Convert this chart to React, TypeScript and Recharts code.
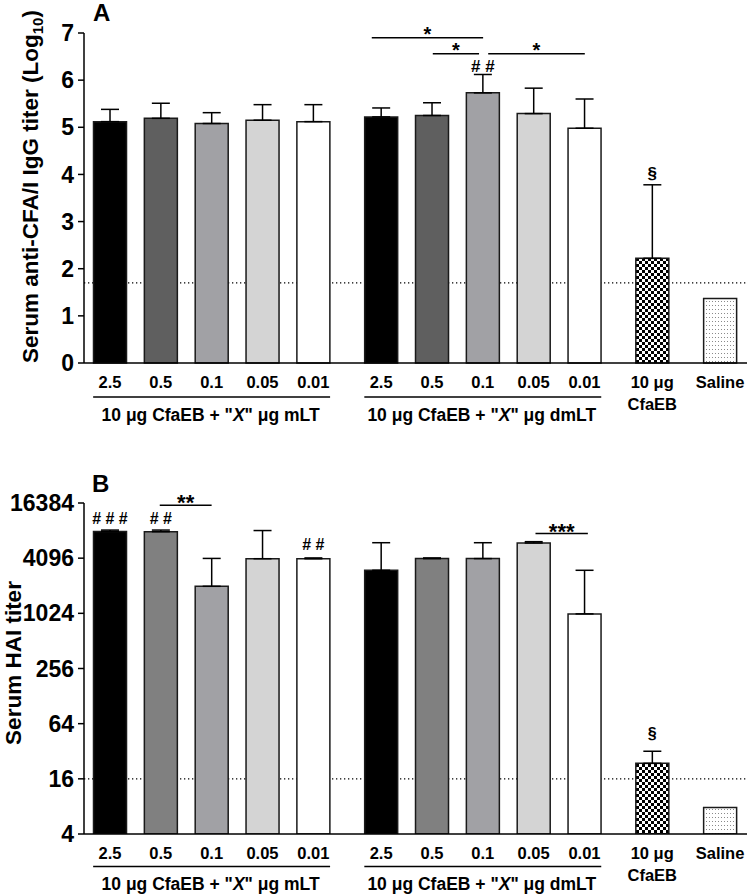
import React from "react";
import {
  ComposedChart,
  Bar,
  XAxis,
  YAxis,
  ErrorBar,
  Cell,
  ReferenceLine,
  ReferenceDot,
  CartesianGrid,
} from "recharts";

const FONT = "Arial, 'Liberation Sans', Helvetica, sans-serif";

// ---------- categories ----------
const groupOf = [0, 0, 0, 0, 0, 1, 1, 1, 1, 1, 2, 3];
const tickLabels = [
  "2.5", "0.5", "0.1", "0.05", "0.01",
  "2.5", "0.5", "0.1", "0.05", "0.01",
  "10 μg\nCfaEB", "Saline",
];
const groupNames = [
  { adjuvant: "mLT", first: 0, last: 4 },
  { adjuvant: "dmLT", first: 5, last: 9 },
];

// ---------- panel A: anti-CFA/I IgG (log10) ----------
const igGMean = [5.12, 5.19, 5.08, 5.15, 5.12, 5.22, 5.25, 5.73, 5.29, 4.98, 2.22, 1.37];
const igGErr = [0.26, 0.32, 0.23, 0.33, 0.36, 0.19, 0.27, 0.39, 0.54, 0.62, 1.56, null];
const igGLimit = 1.7;
const igGTicks = [0, 1, 2, 3, 4, 5, 6, 7];
const igGSig = [
  { from: 5.15, to: 7.34, y: 6.9, text: "*" },
  { from: 6.35, to: 7.26, y: 6.56, text: "*" },
  { from: 7.44, to: 9.34, y: 6.56, text: "*" },
];
const igGMarks = [
  { bar: 7, y: 6.3, text: "##" },
  { bar: 10, y: 4.02, text: "§" },
];

// ---------- panel B: HAI titer ----------
const haiMean = [8030, 7970, 2020, 4040, 4040, 3020, 4050, 4050, 6000, 1010, 23.6, 7.8];
const haiUpper = [8300, 8300, 4070, 8200, 4120, 6040, 4120, 6040, 6200, 3020, 32, null];
const haiLimit = 16;
const haiTicks = [4, 16, 64, 256, 1024, 4096, 16384];
const haiSig = [
  { from: 0.98, to: 2.0, y: 15440, text: "**" },
  { from: 8.37, to: 9.4, y: 7590, text: "***" },
];
const haiMarks = [
  { bar: 0, y: 11040, text: "###" },
  { bar: 1, y: 11040, text: "##" },
  { bar: 4, y: 5760, text: "##" },
  { bar: 10, y: 50.4, text: "§" },
];

// ---------- layout helpers ----------
const GROUP_GAP = 1 / 3;
const xOf = (i: number) => i + GROUP_GAP * groupOf[i];
const xs = groupOf.map((_, i) => xOf(i));
const X_DOMAIN: [number, number] = [-0.51, 12.53];
const HALF_BAR = 0.33;

const fillsA = ["#000000", "#5f5f5f", "#a1a1a5", "#d4d4d4", "#ffffff", "#000000", "#5f5f5f", "#a1a1a5", "#d4d4d4", "#ffffff", "url(#checkA)", "url(#dotsA)"];
const fillsB = ["#000000", "#808080", "#a1a1a5", "#d4d4d4", "#ffffff", "#000000", "#808080", "#a1a1a5", "#d4d4d4", "#ffffff", "url(#checkB)", "url(#dotsB)"];

const spread = (t: string) => t.split("").join(" ");

const PatternDefs = ({ suffix }: { suffix: string }) => (
  <defs>
    <pattern id={"check" + suffix} patternUnits="userSpaceOnUse" width={6} height={6}>
      <rect x={0} y={0} width={6} height={6} fill="#fff" />
      <rect x={0} y={0} width={3} height={3} fill="#000" />
      <rect x={3} y={3} width={3} height={3} fill="#000" />
    </pattern>
    <pattern id={"dots" + suffix} patternUnits="userSpaceOnUse" width={3} height={4}>
      <rect x={0} y={0} width={3} height={4} fill="#fff" />
      <rect x={1} y={1} width={1} height={1} fill="#8a8a8a" />
    </pattern>
  </defs>
);

const makeXTick = (groupDy: number) => (props: any) => {
  const { x, y, payload } = props;
  const i = xs.findIndex((v) => Math.abs(v - payload.value) < 1e-6);
  if (i < 0) return <g />;
  const lines = tickLabels[i].split("\n");
  const g = groupNames.find((gr) => (gr.first + gr.last) / 2 === i);
  return (
    <g>
      <text x={x} y={y} textAnchor="middle" fontFamily={FONT} fontWeight="bold" fontSize={16.5} fill="#000">
        {lines.map((l, k) => (
          <tspan key={k} x={x} dy={k === 0 ? 24.5 : 22.5}>
            {l}
          </tspan>
        ))}
      </text>
      {g && (
        <text x={x - 1} y={y + groupDy} textAnchor="middle" fontFamily={FONT} fontWeight="bold" fontSize={17.5} fill="#000">
          {'10 μg CfaEB + "'}
          <tspan fontStyle="italic">X</tspan>
          {'" μg ' + g.adjuvant}
        </text>
      )}
    </g>
  );
};

const textShape = (text: string, size: number, dy: number) => (p: any) => (
  <text x={p.cx} y={p.cy + dy} textAnchor="middle" fontFamily={FONT} fontWeight="bold" fontSize={size} fill="#000">
    {text}
  </text>
);

const markShape = (text: string, size: number) => (p: any) => (
  <text x={p.cx} y={p.cy} textAnchor="middle" dominantBaseline="central" fontFamily={FONT} fontWeight="bold" fontSize={size} fill="#000">
    {text === "§" ? text : spread(text)}
  </text>
);

const dataA = xs.map((x, i) => ({
  x,
  v: igGMean[i],
  err: igGErr[i] == null ? null : [0, igGErr[i] as number],
}));
const dataB = xs.map((x, i) => ({
  x,
  v: haiMean[i],
  err: haiUpper[i] == null ? null : [0, (haiUpper[i] as number) - haiMean[i]],
}));

const W = 747;
const axisStroke = { stroke: "#000", strokeWidth: 1.5 };
const yTickStyle = { fontFamily: FONT, fontWeight: "bold" as const, fontSize: 23, fill: "#000" };

function PanelA() {
  return (
    <ComposedChart width={W} height={430} data={dataA} margin={{ top: 33, right: 0, bottom: 0, left: 0 }}>
      <PatternDefs suffix="A" />
      <CartesianGrid vertical={false} horizontalValues={[igGLimit]} stroke="#000" strokeWidth={1.2} strokeDasharray="1.3 2.7" />
      <XAxis
        dataKey="x"
        type="number"
        domain={X_DOMAIN}
        ticks={xs}
        interval={0}
        allowDataOverflow
        height={67}
        tickLine={false}
        tickSize={0}
        tickMargin={0}
        axisLine={axisStroke}
        tick={makeXTick(57.5)}
      />
      <YAxis
        type="number"
        domain={[0, 7]}
        ticks={igGTicks}
        interval={0}
        width={84}
        tickSize={6}
        tickMargin={4}
        axisLine={axisStroke}
        tickLine={axisStroke}
        tick={yTickStyle}
      />
      <Bar dataKey="v" barSize={33} stroke="#1a1a1a" strokeWidth={1.5} isAnimationActive={false}>
        {dataA.map((_, i) => (
          <Cell key={i} fill={fillsA[i]} />
        ))}
        <ErrorBar dataKey="err" direction="y" width={9} stroke="#000" strokeWidth={1.5} />
      </Bar>
      {groupNames.map((g, k) => (
        <ReferenceLine
          key={"g" + k}
          ifOverflow="visible"
          segment={[
            { x: xOf(g.first) - HALF_BAR, y: -0.72 },
            { x: xOf(g.last) + HALF_BAR, y: -0.72 },
          ]}
          stroke="#000"
          strokeWidth={1.5}
        />
      ))}
      {igGSig.map((s, k) => (
        <ReferenceLine
          key={"s" + k}
          ifOverflow="visible"
          segment={[
            { x: s.from, y: s.y },
            { x: s.to, y: s.y },
          ]}
          stroke="#000"
          strokeWidth={1.5}
        />
      ))}
      {igGSig.map((s, k) => (
        <ReferenceDot key={"st" + k} x={(s.from + s.to) / 2} y={s.y} r={0} ifOverflow="visible" shape={textShape(s.text, 20, 3)} />
      ))}
      {igGMarks.map((m, k) => (
        <ReferenceDot key={"m" + k} x={xs[m.bar]} y={m.y} r={0} ifOverflow="visible" shape={markShape(m.text, 17)} />
      ))}
      <text x={93} y={21} fontFamily={FONT} fontWeight="bold" fontSize={24} fill="#000">
        A
      </text>
      <text transform="translate(38,186.5) rotate(-90)" textAnchor="middle" fontFamily={FONT} fontWeight="bold" fontSize={22.5} fill="#000">
        Serum anti-CFA/I IgG titer (Log
        <tspan fontSize={15} dy={5}>10</tspan>
        <tspan dy={-5}>)</tspan>
      </text>
    </ComposedChart>
  );
}

function PanelB() {
  return (
    <ComposedChart width={W} height={456} data={dataB} margin={{ top: 63, right: 0, bottom: 0, left: 0 }}>
      <PatternDefs suffix="B" />
      <CartesianGrid vertical={false} horizontalValues={[haiLimit]} stroke="#000" strokeWidth={1.2} strokeDasharray="1.3 2.7" />
      <XAxis
        dataKey="x"
        type="number"
        domain={X_DOMAIN}
        ticks={xs}
        interval={0}
        allowDataOverflow
        height={62}
        tickLine={false}
        tickSize={0}
        tickMargin={0}
        axisLine={axisStroke}
        tick={makeXTick(56)}
      />
      <YAxis
        type="number"
        scale="log"
        base={2}
        domain={[4, 16384]}
        ticks={haiTicks}
        interval={0}
        allowDataOverflow
        width={84}
        tickSize={6}
        tickMargin={4}
        axisLine={axisStroke}
        tickLine={axisStroke}
        tick={yTickStyle}
      />
      <Bar dataKey="v" barSize={33} stroke="#1a1a1a" strokeWidth={1.5} isAnimationActive={false}>
        {dataB.map((_, i) => (
          <Cell key={i} fill={fillsB[i]} />
        ))}
        <ErrorBar dataKey="err" direction="y" width={9} stroke="#000" strokeWidth={1.5} />
      </Bar>
      {groupNames.map((g, k) => (
        <ReferenceLine
          key={"g" + k}
          ifOverflow="visible"
          segment={[
            { x: xOf(g.first) - HALF_BAR, y: 1.77 },
            { x: xOf(g.last) + HALF_BAR, y: 1.77 },
          ]}
          stroke="#000"
          strokeWidth={1.5}
        />
      ))}
      {haiSig.map((s, k) => (
        <ReferenceLine
          key={"s" + k}
          ifOverflow="visible"
          segment={[
            { x: s.from, y: s.y },
            { x: s.to, y: s.y },
          ]}
          stroke="#000"
          strokeWidth={1.5}
        />
      ))}
      {haiSig.map((s, k) => (
        <ReferenceDot key={"st" + k} x={(s.from + s.to) / 2} y={s.y} r={0} ifOverflow="visible" shape={textShape(s.text, 22, 5)} />
      ))}
      {haiMarks.map((m, k) => (
        <ReferenceDot key={"m" + k} x={xs[m.bar]} y={m.y} r={0} ifOverflow="visible" shape={markShape(m.text, 16)} />
      ))}
      <text x={92} y={52} fontFamily={FONT} fontWeight="bold" fontSize={24} fill="#000">
        B
      </text>
      <text transform="translate(20.5,223) rotate(-90)" textAnchor="middle" fontFamily={FONT} fontWeight="bold" fontSize={22.5} fill="#000">
        Serum HAI titer
      </text>
    </ComposedChart>
  );
}

export default function App() {
  return (
    <div style={{ position: "absolute", left: 0, top: 0, width: W, height: 896, background: "#fff" }}>
      <div style={{ position: "absolute", left: 0, top: 0 }}>
        <PanelA />
      </div>
      <div style={{ position: "absolute", left: 0, top: 440 }}>
        <PanelB />
      </div>
    </div>
  );
}
